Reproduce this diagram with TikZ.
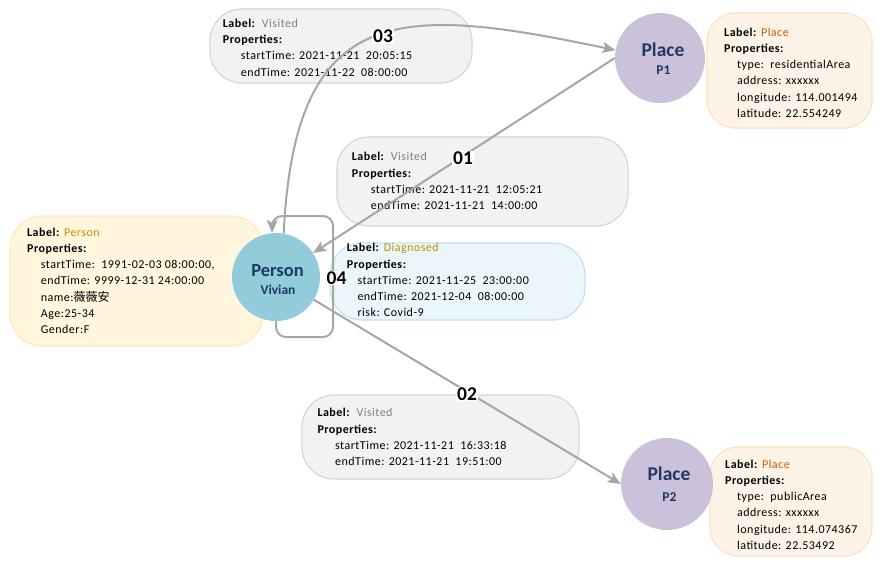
\documentclass[tikz,border=0pt]{standalone}
\usepackage{fontspec}
\setmainfont{Carlito}
\newfontfamily\propfont{Carlito}[LetterSpace=4]
\newfontfamily\cjk{Noto Sans CJK SC}
\usetikzlibrary{arrows.meta}
\newcommand\mytopstrut{\rule{0pt}{10pt}}
\definecolor{conngray}{RGB}{166,166,166}
\definecolor{boxfill}{RGB}{242,242,242}
\definecolor{boxline}{RGB}{214,214,214}
\definecolor{perfill}{RGB}{255,246,221}
\definecolor{perline}{RGB}{255,233,185}
\definecolor{plfill}{RGB}{253,243,230}
\definecolor{plline}{RGB}{251,226,192}
\definecolor{dgfill}{RGB}{234,246,250}
\definecolor{dgline}{RGB}{193,227,239}
\definecolor{personblue}{RGB}{146,204,219}
\definecolor{placepurple}{RGB}{204,193,218}
\definecolor{navy}{RGB}{31,56,100}
\definecolor{visgray}{RGB}{128,128,128}
\definecolor{placeorange}{RGB}{197,90,17}
\definecolor{persongold}{RGB}{191,144,0}
\tikzset{
  panelbase/.style={line width=1.2pt, inner sep=0pt, rounded corners=32pt},
  graypanel/.style={panelbase, draw=boxline, fill=boxfill},
  personpanel/.style={panelbase, draw=perline, fill=perfill},
  placepanel/.style={panelbase, draw=plline, fill=plfill, rounded corners=28pt},
  diagpanel/.style={panelbase, draw=dgline, fill=dgfill},
  proptext/.style={anchor=north west, align=left, inner sep=0pt, font=\propfont\fontsize{12}{16.2}\selectfont},
  numlabel/.style={fill=white, inner sep=1pt, font=\bfseries\fontsize{19.5}{20}\selectfont},
  conn/.style={draw=conngray, line width=2pt, -{Stealth[length=13pt,width=11pt,inset=3pt]}},
  entity/.style={circle, inner sep=0pt},
  ttl/.style={text=navy, anchor=base, inner sep=0pt, font=\bfseries\fontsize{19}{20}\selectfont},
  subttl/.style={text=navy, anchor=base, inner sep=0pt, font=\bfseries\fontsize{13.5}{14}\selectfont}
}
\begin{document}
\begin{tikzpicture}[x=1pt,y=-1pt]
\useasboundingbox (0,0) rectangle (878,560);
% panels
\node[graypanel, minimum width=262pt, minimum height=74pt] (b03) at (341,46) {};
\node[graypanel, minimum width=291pt, minimum height=89pt] (b01) at (482.5,181.5) {};
\node[diagpanel, minimum width=255pt, minimum height=77pt] (bdg) at (457.5,281.5) {};
\node[graypanel, minimum width=277pt, minimum height=84pt] (b02) at (440.5,437) {};
\node[personpanel, minimum width=253pt, minimum height=130pt] (bper) at (136.5,281) {};
\node[placepanel, minimum width=165pt, minimum height=115pt] (bp1) at (789.5,70.5) {};
\node[placepanel, minimum width=162pt, minimum height=109pt] (bp2) at (791,501.5) {};
% panel texts (top of node = first baseline - 10pt)
\node[proptext] (t03) at (222.7,17.3) {\mytopstrut\textbf{Label:}\ \ \textcolor{visgray}{Visited}\\ \textbf{Properties:}\\ \hspace*{18pt}startTime: 2021-11-21\ \ 20:05:15\\ \hspace*{18pt}endTime: 2021-11-22\ \ 08:00:00};
\node[proptext] (t01) at (351.7,150.7) {\mytopstrut\textbf{Label:}\ \ \textcolor{visgray}{Visited}\\ \textbf{Properties:}\\ \hspace*{19pt}startTime: 2021-11-21\ \ 12:05:21\\ \hspace*{19pt}endTime: 2021-11-21\ \ 14:00:00};
\node[proptext] (tdg) at (346.7,241.7) {\mytopstrut\textbf{Label:} \textcolor{persongold}{Diagnosed}\\ \textbf{Properties:}\\ \hspace*{10.6pt}startTime: 2021-11-25\ \ 23:00:00\\ \hspace*{10.6pt}endTime: 2021-12-04\ \ 08:00:00\\ \hspace*{10.6pt}risk: Covid-9};
\node[proptext] (t02) at (317.3,406.7) {\mytopstrut\textbf{Label:}\ \ \textcolor{visgray}{Visited}\\ \textbf{Properties:}\\ \hspace*{17.7pt}startTime: 2021-11-21\ \ 16:33:18\\ \hspace*{17.7pt}endTime: 2021-11-21\ \ 19:51:00};
\node[proptext] (tper) at (27,226) {\mytopstrut\textbf{Label:} \textcolor{persongold}{Person}\\ \textbf{Properties:}\\ \hspace*{13.7pt}startTime:\ \ 1991-02-03 08:00:00,\\ \hspace*{13.7pt}endTime: 9999-12-31 24:00:00\\ \hspace*{13.7pt}name:{\cjk 薇薇安}\\ \hspace*{13.7pt}Age:25-34\\ \hspace*{13.7pt}Gender:F};
\node[proptext] (tp1) at (724,26) {\mytopstrut\textbf{Label:} \textcolor{placeorange}{Place}\\ \textbf{Properties:}\\ \hspace*{13pt}type:\ \ residentialArea\\ \hspace*{13pt}address: xxxxxx\\ \hspace*{13pt}longitude: 114.001494\\ \hspace*{13pt}latitude: 22.554249};
\node[proptext] (tp2) at (725,458) {\mytopstrut\textbf{Label:} \textcolor{placeorange}{Place}\\ \textbf{Properties:}\\ \hspace*{12pt}type:\ \ publicArea\\ \hspace*{12pt}address: xxxxxx\\ \hspace*{12pt}longitude: 114.074367\\ \hspace*{12pt}latitude: 22.53492};
% entities
\node[entity, minimum size=88pt] (person) at (276,277) {};
\node[entity, minimum size=90pt] (p1) at (660,58) {};
\node[entity, minimum size=92pt] (p2) at (667,484) {};
\coordinate (lpbr) at (333,337);
\coordinate (lptr) at (333,216);
% connectors
\draw[conn] (p1.west) -- (person);
\draw[conn] (person) -- (p2.west);
\draw[conn] (person.80) .. controls (295,0) and (400,5) .. (p1.170);
\draw[conn, rounded corners=10pt] (person.south) |- (lpbr) -- (lptr) -| (person.95);
% entity fills on top
\fill[personblue] (person.center) circle[radius=44pt];
\fill[placepurple] (p1.center) circle[radius=45pt];
\fill[placepurple] (p2.center) circle[radius=46pt];
\node[ttl, font=\bfseries\fontsize{18.5}{20}\selectfont] (personT) at (277.5,276) {Person};
\node[subttl] (personS) at (278,294) {Vivian};
\node[ttl, font=\bfseries\fontsize{19.5}{20}\selectfont] (p1T) at (663,56.7) {Place};
\node[subttl] (p1S) at (663.5,74) {P1};
\node[ttl, font=\bfseries\fontsize{19.5}{20}\selectfont] (p2T) at (669,480.7) {Place};
\node[subttl] (p2S) at (669.5,501.7) {P2};
% edge labels
\node[numlabel] (n03) at (383,36.5) {03};
\node[numlabel] (n01) at (463,158) {01};
\node[numlabel] (n04) at (336.5,278) {04};
\node[numlabel] (n02) at (467,394) {02};
\end{tikzpicture}
\end{document}
